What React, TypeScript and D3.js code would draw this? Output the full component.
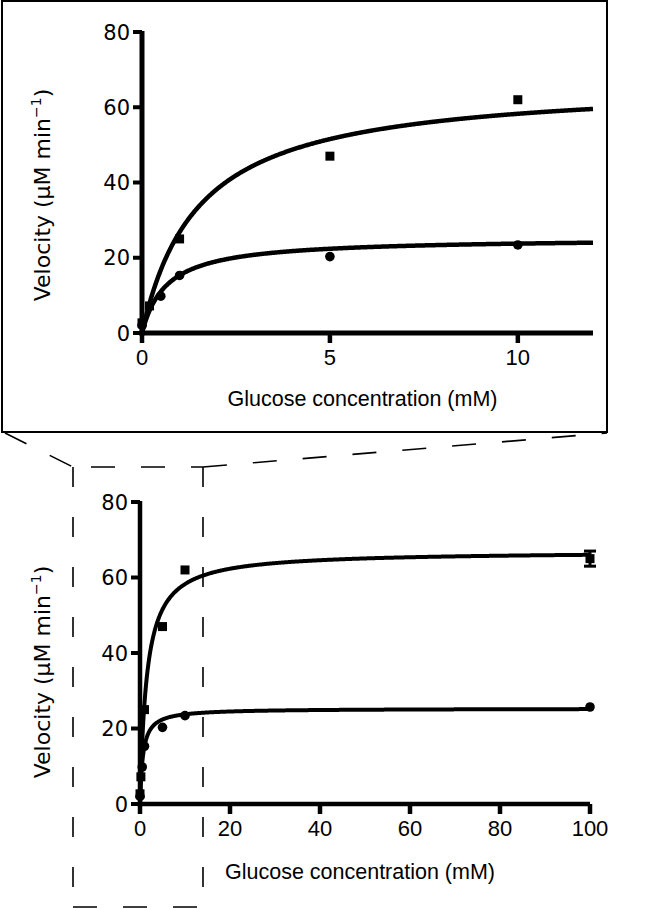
import React from "react";
import * as d3 from "d3";

// Glucose concentration (mM) and measured velocities (µM min^-1)
const squareConc = [0, 0.2, 1, 5, 10, 100];
const squareVel = [2.7, 7.2, 25, 47, 62, 65];
const squareErr = [0, 0, 0, 0, 0, 2];
const circleConc = [0, 0.5, 1, 5, 10, 100];
const circleVel = [2, 9.8, 15.3, 20.3, 23.4, 25.7];

// Michaelis–Menten fit parameters [squares, circles]
const fitVmax = [67, 25.3];
const fitKm = [1.5, 0.65];

const yTicks = [0, 20, 40, 60, 80];
const xTicksTop = [0, 5, 10];
const xTicksBottom = [0, 20, 40, 60, 80, 100];

const W = 668;
const H = 909;

type PanelProps = {
  xMax: number;
  xRange: [number, number];
  yRange: [number, number];
  xTicks: number[];
  yTickFont: number;
  xTitleY: number;
  yTitleX: number;
  yTitleCenter: number;
  axisW: number;
  curveW: number;
};

function mm(v: number, k: number, s: number) {
  return (v * s) / (k + s);
}

function Panel(p: PanelProps) {
  const x = d3.scaleLinear().domain([0, p.xMax]).range(p.xRange);
  const y = d3.scaleLinear().domain([0, 80]).range(p.yRange);
  const samples = d3.range(0, p.xMax + 1e-9, p.xMax / 600);
  const line = d3
    .line<number[]>()
    .x((d) => x(d[0]))
    .y((d) => y(d[1]));
  const curves = fitVmax.map((v, i) =>
    line(samples.map((s) => [s, mm(v, fitKm[i], s)]))
  );
  const inRange = (c: number) => c <= p.xMax;
  const sq = 9;
  return (
    <g>
      {/* axes */}
      <line x1={x(0)} x2={x(0)} y1={y(0) + p.axisW / 2} y2={y(80) - 1} stroke="#000" strokeWidth={p.axisW} />
      <line x1={x(0) - p.axisW / 2} x2={x(p.xMax)} y1={y(0)} y2={y(0)} stroke="#000" strokeWidth={p.axisW} />
      {yTicks.map((t) => (
        <g key={"y" + t}>
          <line x1={x(0) - 9} x2={x(0)} y1={y(t)} y2={y(t)} stroke="#000" strokeWidth={4} />
          <text x={x(0) - 12} y={y(t)} dy="0.36em" textAnchor="end" fontFamily="DejaVu Sans" fontSize={p.yTickFont} fill="#000">
            {t}
          </text>
        </g>
      ))}
      {p.xTicks.map((t) => (
        <g key={"x" + t}>
          <line x1={x(t)} x2={x(t)} y1={y(0)} y2={y(0) + 10} stroke="#000" strokeWidth={4.5} />
          <text x={x(t)} y={y(0) + 32} textAnchor="middle" fontFamily="Liberation Sans" fontSize={22} fill="#000">
            {t}
          </text>
        </g>
      ))}
      {/* titles */}
      <text x={(x(0) + x(p.xMax)) / 2 - 5} y={p.xTitleY} textAnchor="middle" fontFamily="Liberation Sans" fontSize={21.5} fill="#000">
        Glucose concentration (mM)
      </text>
      <text
        transform={`translate(${p.yTitleX},${p.yTitleCenter}) rotate(-90)`}
        textAnchor="middle"
        fontFamily="DejaVu Sans"
        fontSize={22}
        fill="#000"
      >
        Velocity (μM min
        <tspan fontSize={14} dy={-9}>−1</tspan>
        <tspan dy={9}>)</tspan>
      </text>
      {/* fit curves */}
      {curves.map((d, i) => (
        <path key={"c" + i} d={d || ""} fill="none" stroke="#000" strokeWidth={p.curveW} strokeLinejoin="round" />
      ))}
      {/* points */}
      {squareConc.map((c, i) =>
        inRange(c) ? (
          <g key={"s" + i}>
            {squareErr[i] > 0 && (
              <g>
                <line x1={x(c)} x2={x(c)} y1={y(squareVel[i] - squareErr[i])} y2={y(squareVel[i] + squareErr[i])} stroke="#000" strokeWidth={3} />
                <line x1={x(c) - 6} x2={x(c) + 6} y1={y(squareVel[i] - squareErr[i])} y2={y(squareVel[i] - squareErr[i])} stroke="#000" strokeWidth={3} />
                <line x1={x(c) - 6} x2={x(c) + 6} y1={y(squareVel[i] + squareErr[i])} y2={y(squareVel[i] + squareErr[i])} stroke="#000" strokeWidth={3} />
              </g>
            )}
            <rect x={x(c) - sq / 2} y={y(squareVel[i]) - sq / 2} width={sq} height={sq} fill="#000" />
          </g>
        ) : null
      )}
      {circleConc.map((c, i) =>
        inRange(c) ? <circle key={"o" + i} cx={x(c)} cy={y(circleVel[i])} r={4.8} fill="#000" /> : null
      )}
    </g>
  );
}

export default function App() {
  return (
    <svg
      width={W}
      height={H}
      viewBox={`0 0 ${W} ${H}`}
      style={{ position: "absolute", left: 0, top: 0, background: "#fff" }}
    >
      <rect x={0} y={0} width={W} height={H} fill="#fff" />
      {/* inset frame */}
      <rect x={2} y={1} width={605} height={431} fill="none" stroke="#000" strokeWidth={2} />
      <Panel
        xMax={12}
        xRange={[142, 593]}
        yRange={[333, 32]}
        xTicks={xTicksTop}
        yTickFont={21}
        xTitleY={406}
        yTitleX={50}
        yTitleCenter={195}
        axisW={5}
        curveW={4.5}
      />
      {/* zoom guide: dashed lines */}
      <g fill="none" stroke="#000" strokeWidth={1.6} strokeDasharray="24,26">
        <line x1={5} y1={433} x2={73} y2={467} />
        <line x1={203} y1={467} x2={607} y2={433} />
        <line x1={73} y1={467} x2={203} y2={467} strokeDashoffset={-18} />
        <line x1={73} y1={467} x2={73} y2={909} strokeDasharray="20,30" />
        <line x1={203} y1={467} x2={203} y2={907} strokeDasharray="20,30" />
        <line x1={73} y1={907} x2={203} y2={907} />
      </g>
      <Panel
        xMax={100}
        xRange={[140, 590]}
        yRange={[804, 502]}
        xTicks={xTicksBottom}
        yTickFont={21}
        xTitleY={879}
        yTitleX={50}
        yTitleCenter={672}
        axisW={4.5}
        curveW={4}
      />
    </svg>
  );
}
